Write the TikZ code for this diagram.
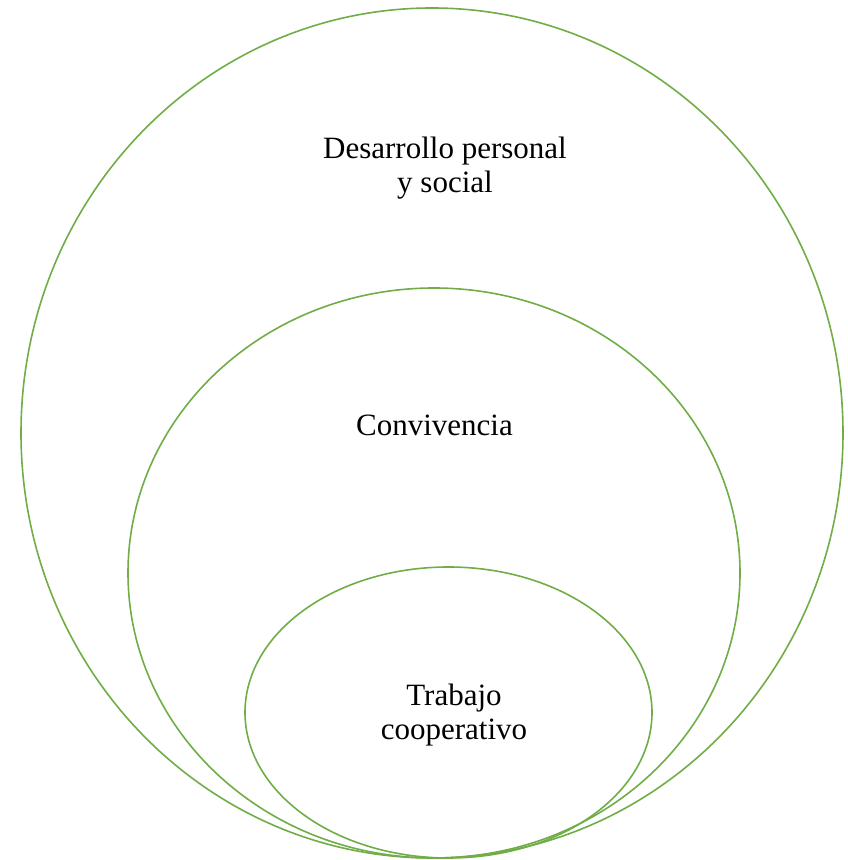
\documentclass[tikz,border=0pt]{standalone}
\usepackage{fontspec}
\setmainfont{Liberation Serif}
\usepackage{tikz}
\definecolor{ringGreen}{RGB}{112,173,71}
\newcommand{\ringWidth}{1.6pt}
\newcommand{\labelFont}{\fontsize{31}{34}\selectfont}
\begin{document}
\begin{tikzpicture}[x=1pt, y=1pt, ring/.style={draw=ringGreen, line width=\ringWidth},
    lbl/.style={font=\labelFont, align=center, inner sep=0pt}]
   \useasboundingbox (0,0) rectangle (847,860);
\draw[ring] (432, 427) ellipse [x radius=411, y radius=425];
\draw[ring] (434, 287) ellipse [x radius=306, y radius=285];
\draw[ring] (448.5, 147.5) ellipse [x radius=203.5, y radius=145.5];
\node[lbl] (desarrollo) at (445, 692) {Desarrollo personal\\y social};
\node[lbl, anchor=base] (convivencia) at (434.5, 424) {Convivencia};
\node[lbl] (trabajo) at (454, 145) {Trabajo\\cooperativo};
   \end{tikzpicture}
\end{document}
